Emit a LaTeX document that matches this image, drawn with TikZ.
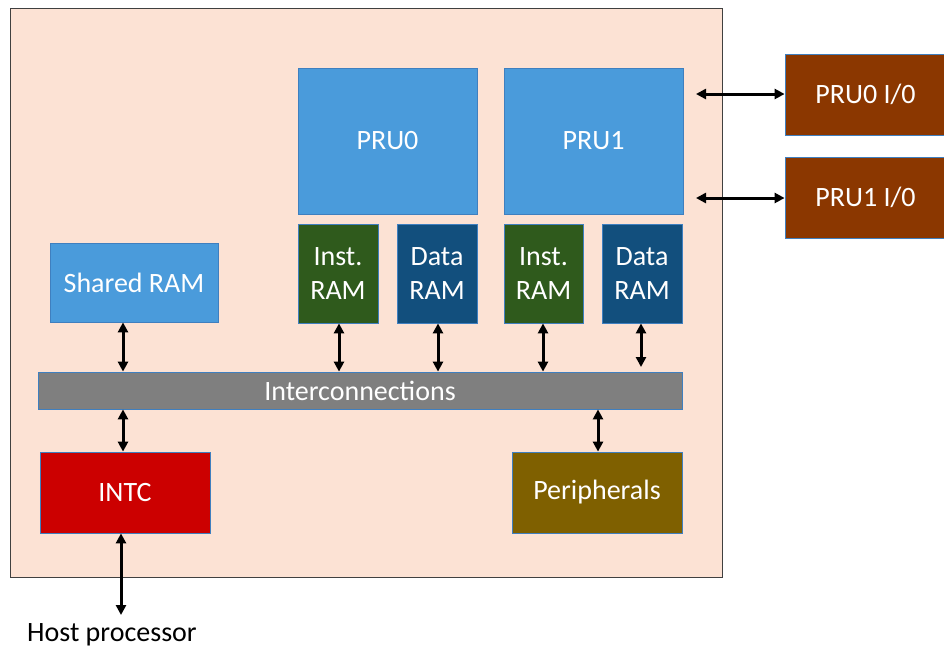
\documentclass[tikz,border=0pt]{standalone}
\usepackage{fontspec}
\setmainfont{Carlito}
\usetikzlibrary{arrows.meta}
\definecolor{peach}{HTML}{FCE2D4}
\definecolor{prublue}{HTML}{4A9BDB}
\definecolor{bordblue}{HTML}{3F7FBF}
\definecolor{instgreen}{HTML}{2F5A1C}
\definecolor{datablue}{HTML}{124F7D}
\definecolor{icgray}{HTML}{7F7F7F}
\definecolor{intcred}{HTML}{CC0000}
\definecolor{perbrown}{HTML}{7F6000}
\definecolor{iobrown}{HTML}{8B3700}
\tikzset{
  blk/.style={draw=bordblue, line width=0.8pt, text=white, font=\fontsize{28}{34}\selectfont, align=center, inner sep=0pt},
  conn/.style={line width=3pt, {Triangle[length=10pt,width=10pt]}-{Triangle[length=10pt,width=10pt]}}
}
\newcommand{\boxat}[7]{% name, x1,y1,x2,y2, fill, text
  \node[blk, fill=#6, minimum width={(#4-#2)*1pt}, minimum height={(#5-#3)*1pt}] (#1) at ({(#2+#4)/2},{(#3+#5)/2}) {#7};}
\begin{document}
\begin{tikzpicture}[x=1pt,y=-1pt]
\useasboundingbox (0,0) rectangle (944,651);
\fill[white] (0,0) rectangle (944,651);
\draw[fill=peach, draw=black!75, line width=1pt] (10,8) rectangle (722,577);
\boxat{pru0}{298}{68}{477}{214}{prublue}{PRU0}
\boxat{pru1}{504}{68}{683}{214}{prublue}{PRU1}
\boxat{inst0}{298}{224}{378}{323}{instgreen}{Inst.\\RAM}
\boxat{data0}{397}{224}{477}{323}{datablue}{Data\\RAM}
\boxat{inst1}{504}{224}{583}{323}{instgreen}{Inst.\\RAM}
\boxat{data1}{602}{224}{682}{323}{datablue}{Data\\RAM}
\boxat{shram}{50}{243}{218}{322}{prublue}{Shared RAM}
\boxat{ic}{38}{372}{682}{409}{icgray}{Interconnections}
\boxat{intc}{40}{452}{210}{533}{intcred}{INTC}
\boxat{per}{512}{452}{682}{533}{perbrown}{Peripherals}
\boxat{io0}{785}{54}{946}{135}{iobrown}{PRU0 I/0}
\boxat{io1}{785}{157}{946}{238}{iobrown}{PRU1 I/0}
\node[font=\fontsize{28}{34}\selectfont, anchor=center] (host) at (112,635) {Host processor};
\coordinate (hostend) at (121,615);
\coordinate (p0) at (696,94);
\coordinate (p1) at (696,198);
% arrows
\draw[conn] (shram.south -| 123,0) -- (ic.north -| 123,0);
\draw[conn] (inst0.south -| 339,0) -- (ic.north -| 339,0);
\draw[conn] (data0.south -| 438,0) -- (ic.north -| 438,0);
\draw[conn] (inst1.south -| 543,0) -- (ic.north -| 543,0);
\draw[conn] (data1.south -| 641,0) -- (641,367);
\draw[conn] (ic.south -| 123,0) -- (intc.north -| 123,0);
\draw[conn] (ic.south -| 598,0) -- (per.north -| 598,0);
\draw[conn] (intc.south -| 121,0) -- (hostend);
\draw[conn] (p0) -- (io0.west |- p0);
\draw[conn] (p1) -- (io1.west |- p1);
\end{tikzpicture}
\end{document}
